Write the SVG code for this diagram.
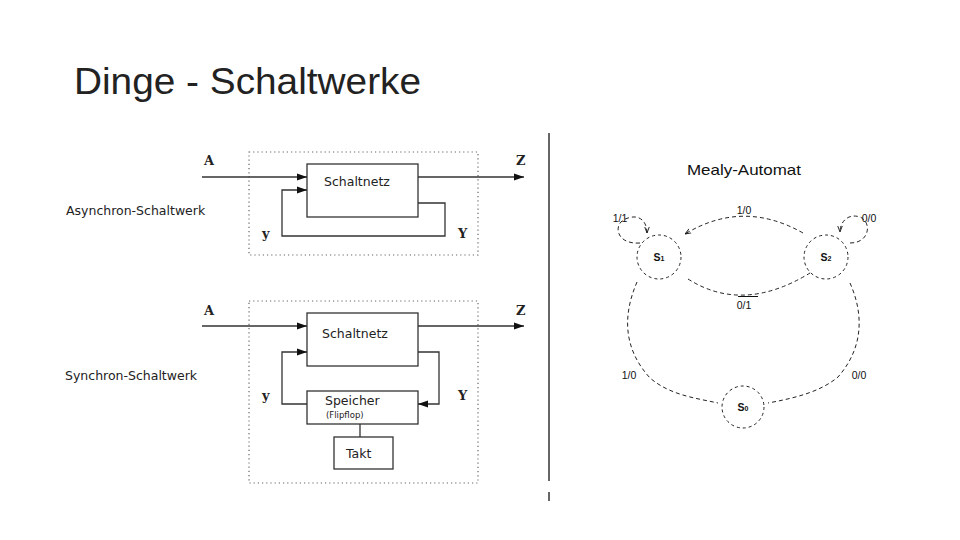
<svg xmlns="http://www.w3.org/2000/svg" width="960" height="540" viewBox="0 0 960 540">
<defs>
<style>
.title{font-family:"Liberation Sans",Arial,sans-serif;font-size:36px;fill:#222;}
.lbl{font-family:"DejaVu Sans",Verdana,sans-serif;font-size:12.5px;fill:#222;}
.small{font-family:"DejaVu Sans",Verdana,sans-serif;font-size:8.5px;fill:#222;}
.var{font-family:"DejaVu Serif","Liberation Serif",serif;font-size:13px;font-weight:bold;fill:#222;}
.box{fill:none;stroke:#333;stroke-width:1.3;}
.frame{fill:none;stroke:#666;stroke-width:1.2;stroke-dasharray:1.2 3;}
.wire{fill:none;stroke:#333;stroke-width:1.3;}
.st{fill:none;stroke:#222;stroke-width:1;stroke-dasharray:3 3;}
.edge{fill:none;stroke:#222;stroke-width:1;stroke-dasharray:4 3;}
.m{font-family:"Liberation Sans",Arial,sans-serif;font-size:10.5px;fill:#111;text-anchor:middle;}
.mt{font-family:"Liberation Sans",Arial,sans-serif;font-size:15px;fill:#111;text-anchor:middle;}
</style>
<marker id="arr" viewBox="0 0 10 10" refX="10" refY="5" markerWidth="10" markerHeight="10" markerUnits="userSpaceOnUse" orient="auto">
<path d="M0,1.5 L10,5 L0,8.5 Z" fill="#111"/>
</marker>
<marker id="tick" viewBox="0 0 8 8" refX="8" refY="4" markerWidth="6" markerHeight="6" markerUnits="userSpaceOnUse" orient="auto">
<path d="M0,1 L8,4 L0,7" fill="none" stroke="#111" stroke-width="1.2"/>
</marker>
</defs>

<rect width="960" height="540" fill="#fff"/>

<text class="title" x="74" y="94" textLength="347" lengthAdjust="spacingAndGlyphs">Dinge - Schaltwerke</text>

<!-- separator -->
<line x1="549" y1="133" x2="549" y2="481" stroke="#333" stroke-width="1.5"/>
<line x1="549" y1="492" x2="549" y2="501" stroke="#333" stroke-width="1.5"/>

<!-- Asynchron-Schaltwerk -->
<g id="async">
<text class="lbl" x="66" y="215">Asynchron-Schaltwerk</text>
<rect class="frame" x="249" y="152" width="229" height="103"/>
</g>
<g id="async-schaltnetz">
<rect class="box" x="307" y="164" width="111" height="53"/>
<text class="lbl" x="324" y="186">Schaltnetz</text>
</g>
<g id="async-connectors">
<line class="wire" x1="202" y1="177" x2="307" y2="177" marker-end="url(#arr)"/>
<line class="wire" x1="418" y1="177" x2="524" y2="177" marker-end="url(#arr)"/>
<path class="wire" d="M418,203 H445 V236 H282 V190 H307" marker-end="url(#arr)"/>
<text class="var" x="204" y="165">A</text>
<text class="var" x="516" y="165">Z</text>
<text class="var" x="262" y="238">y</text>
<text class="var" x="458" y="238">Y</text>
</g>

<!-- Synchron-Schaltwerk -->
<g id="sync">
<text class="lbl" x="65" y="380">Synchron-Schaltwerk</text>
<rect class="frame" x="249" y="301" width="229" height="182"/>
</g>
<g id="sync-schaltnetz">
<rect class="box" x="307" y="313" width="111" height="53"/>
<text class="lbl" x="322" y="338">Schaltnetz</text>
</g>
<g id="sync-speicher">
<rect class="box" x="307" y="391" width="111" height="33"/>
<text class="lbl" x="325" y="405">Speicher</text>
<text class="small" x="326" y="418">(Flipflop)</text>
</g>
<g id="sync-takt">
<rect class="box" x="334" y="437" width="59" height="32"/>
<text class="lbl" x="346" y="458">Takt</text>
</g>
<g id="sync-connectors">
<line class="wire" x1="202" y1="326" x2="307" y2="326" marker-end="url(#arr)"/>
<line class="wire" x1="418" y1="326" x2="524" y2="326" marker-end="url(#arr)"/>
<path class="wire" d="M307,404 H282 V352 H307" marker-end="url(#arr)"/>
<path class="wire" d="M418,352 H439 V404 H418" marker-end="url(#arr)"/>
<line class="wire" x1="360" y1="424" x2="360" y2="437"/>
<text class="var" x="204" y="315">A</text>
<text class="var" x="516" y="315">Z</text>
<text class="var" x="262" y="400">y</text>
<text class="var" x="458" y="400">Y</text>
</g>

<!-- Mealy-Automat -->
<text class="mt" x="744" y="175" textLength="114" lengthAdjust="spacingAndGlyphs">Mealy-Automat</text>

<g id="s1">
<circle class="st" cx="659" cy="257" r="22"/>
<text class="m" x="659" y="261" font-weight="bold">S<tspan font-size="7">1</tspan></text>
</g>
<g id="s2">
<circle class="st" cx="826" cy="257" r="22"/>
<text class="m" x="826" y="261" font-weight="bold">S<tspan font-size="7">2</tspan></text>
</g>
<g id="s0">
<circle class="st" cx="743" cy="407" r="21"/>
<text class="m" x="743" y="411" font-weight="bold">S<tspan font-size="7">0</tspan></text>
</g>

<g id="mealy-connectors">
<path class="edge" d="M803,233 Q743,199 685,234" marker-end="url(#tick)"/>
<path class="edge" d="M688,279 Q743,314 810,273"/>
<line x1="738" y1="296.5" x2="758" y2="296.5" stroke="#111" stroke-width="1"/>
<path class="edge" d="M640,243 C615,245 612,222 628,218 C640,214 647,222 647,233" marker-end="url(#tick)"/>
<path class="edge" d="M850,243 C870,243 872,222 860,217 C848,213 840,222 840,232" marker-end="url(#tick)"/>
<path class="edge" d="M637,282 C625,310 620,345 650,378 C670,395 695,398 718,403"/>
<path class="edge" d="M850,283 C862,310 866,345 838,377 C820,392 795,398 768,403"/>
<text class="m" x="744" y="214">1/0</text>
<text class="m" x="744" y="309">0/1</text>
<text class="m" x="620" y="222">1/1</text>
<text class="m" x="869" y="222">0/0</text>
<text class="m" x="629" y="379">1/0</text>
<text class="m" x="859" y="379">0/0</text>
</g>
</svg>
